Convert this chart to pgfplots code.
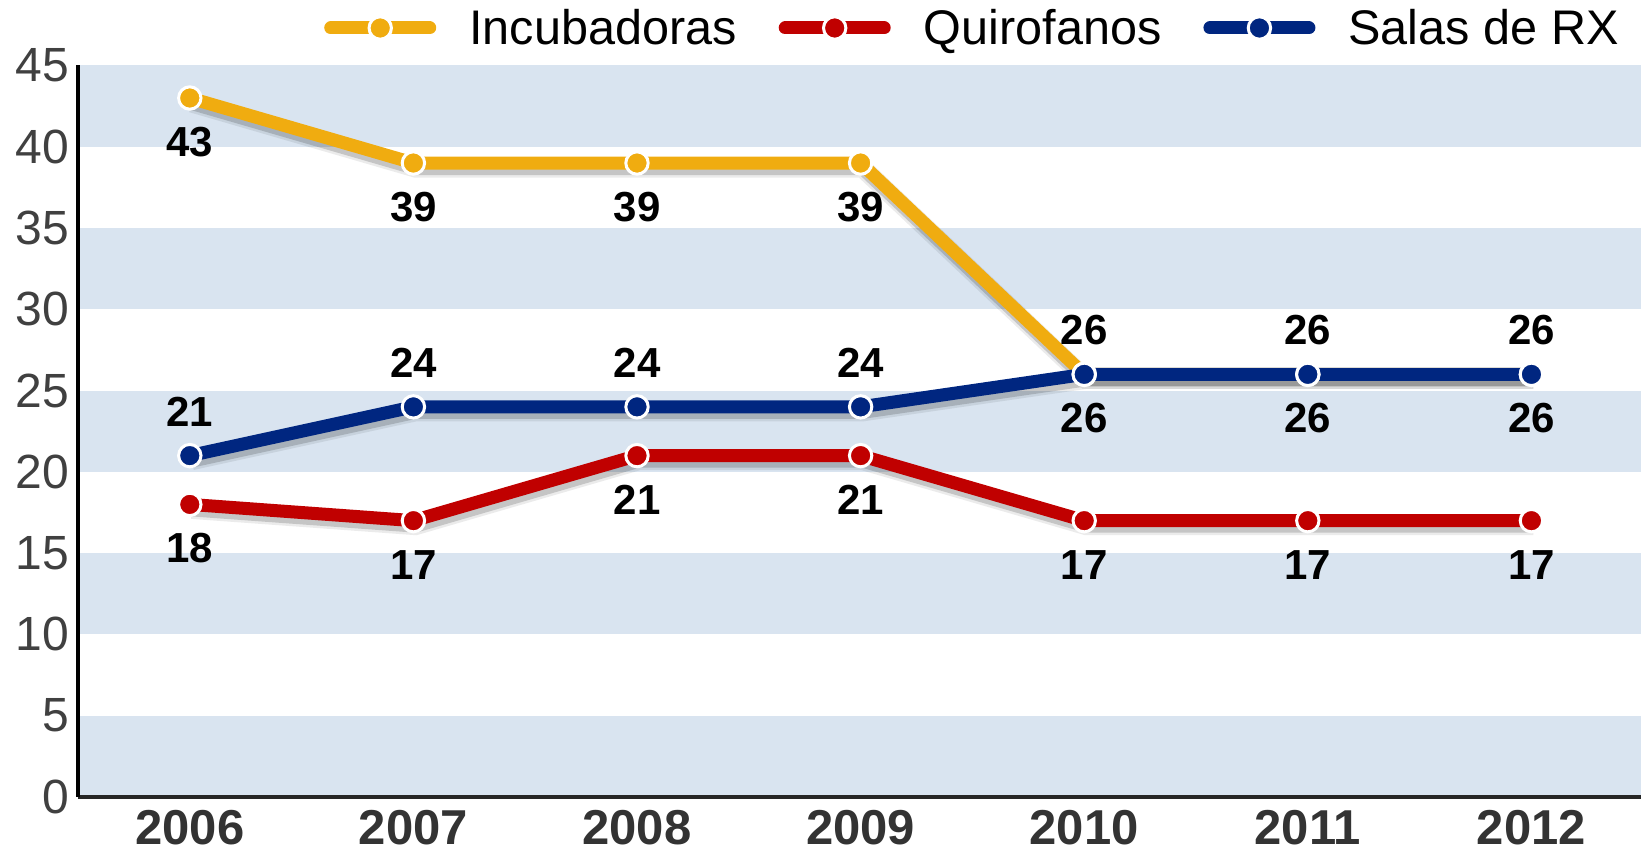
\documentclass[border=0pt]{standalone}
\usepackage{pgfplots}
\pgfplotsset{compat=1.18}
\usepackage{fontspec}
\setmainfont{Liberation Sans}
\definecolor{cyel}{RGB}{240,172,16}
\definecolor{cred}{RGB}{192,0,0}
\definecolor{cblue}{RGB}{0,38,128}
\definecolor{band}{RGB}{217,228,240}
\begin{document}
\begin{tikzpicture}
\begin{axis}[
  name=ax,
  scale only axis, width=781.5pt, height=365.75pt,
  xmin=-0.5, xmax=6.49, ymin=0, ymax=45,
  axis on top,
  axis lines=left,
  axis line style={-, line width=2pt},
  x axis line style={draw=black!85},
  xtick={0,1,2,3,4,5,6},
  xticklabels={2006,2007,2008,2009,2010,2011,2012},
  ytick={0,5,...,45},
  major tick length=0pt,
  /pgf/number format/assume math mode=true,
  yticklabel style={font=\fontsize{24}{28}\selectfont, text=black!75, xshift=-1pt},
  xticklabel style={font=\fontsize{24.5}{28}\selectfont\bfseries, text=black!80, yshift=-3pt},
  legend columns=3,
  legend style={draw=none, fill=none, at={(1,1)}, anchor=east, xshift=-6pt, yshift=18.75pt,
    font=\fontsize{24.3}{28}\selectfont,
    /tikz/every odd column/.append style={column sep=14.5pt},
    /tikz/every even column/.append style={column sep=19pt}},
  legend image code/.code={
    \draw[#1, line width=6.5pt, line cap=round, mark=none] (3.25pt,0pt) -- (52.75pt,0pt);
    \draw[#1, only marks] plot coordinates {(28pt,0pt)};
  },
  every axis plot/.append style={line width=6.5pt},
  nodes near coords style={font=\fontsize{21}{25}\selectfont\bfseries, text=black, anchor=center},
  clip=false,
]
\fill[band] (axis cs:-0.5,0) rectangle (axis cs:6.49,5);
\fill[band] (axis cs:-0.5,10) rectangle (axis cs:6.49,15);
\fill[band] (axis cs:-0.5,20) rectangle (axis cs:6.49,25);
\fill[band] (axis cs:-0.5,30) rectangle (axis cs:6.49,35);
\fill[band] (axis cs:-0.5,40) rectangle (axis cs:6.49,45);

% Incubadoras
\addplot[black, opacity=0.08, line width=9.5pt, xshift=1pt, yshift=-2.5pt, forget plot]
  coordinates {(0,43)(1,39)(2,39)(3,39)(4,26)(5,26)(6,26)};
\addplot[black, opacity=0.16, line width=7pt, xshift=1pt, yshift=-2.5pt, forget plot]
  coordinates {(0,43)(1,39)(2,39)(3,39)(4,26)(5,26)(6,26)};
\addplot[cyel, mark=*, mark size=5.6pt, mark options={fill=cyel, draw=white, line width=1.5pt},
  nodes near coords, nodes near coords style={yshift=-22pt}]
  coordinates {(0,43)(1,39)(2,39)(3,39)(4,26)(5,26)(6,26)};
\addlegendentry{Incubadoras}

% Quirofanos
\addplot[black, opacity=0.08, line width=9.5pt, xshift=1pt, yshift=-2.5pt, forget plot]
  coordinates {(0,18)(1,17)(2,21)(3,21)(4,17)(5,17)(6,17)};
\addplot[black, opacity=0.16, line width=7pt, xshift=1pt, yshift=-2.5pt, forget plot]
  coordinates {(0,18)(1,17)(2,21)(3,21)(4,17)(5,17)(6,17)};
\addplot[cred, mark=*, mark size=5.6pt, mark options={fill=cred, draw=white, line width=1.5pt},
  nodes near coords, nodes near coords style={yshift=-22pt}]
  coordinates {(0,18)(1,17)(2,21)(3,21)(4,17)(5,17)(6,17)};
\addlegendentry{Quirofanos}

% Salas de RX
\addplot[black, opacity=0.08, line width=9.5pt, xshift=1pt, yshift=-2.5pt, forget plot]
  coordinates {(0,21)(1,24)(2,24)(3,24)(4,26)(5,26)(6,26)};
\addplot[black, opacity=0.16, line width=7pt, xshift=1pt, yshift=-2.5pt, forget plot]
  coordinates {(0,21)(1,24)(2,24)(3,24)(4,26)(5,26)(6,26)};
\addplot[cblue, mark=*, mark size=5.6pt, mark options={fill=cblue, draw=white, line width=1.5pt},
  nodes near coords, nodes near coords style={yshift=22pt}]
  coordinates {(0,21)(1,24)(2,24)(3,24)(4,26)(5,26)(6,26)};
\addlegendentry{Salas de RX}
\end{axis}
\pgfresetboundingbox
\path ([shift={(-39pt,-27.5pt)}]ax.south west) rectangle ([shift={(0pt,32.75pt)}]ax.north east);
\end{tikzpicture}
\end{document}
